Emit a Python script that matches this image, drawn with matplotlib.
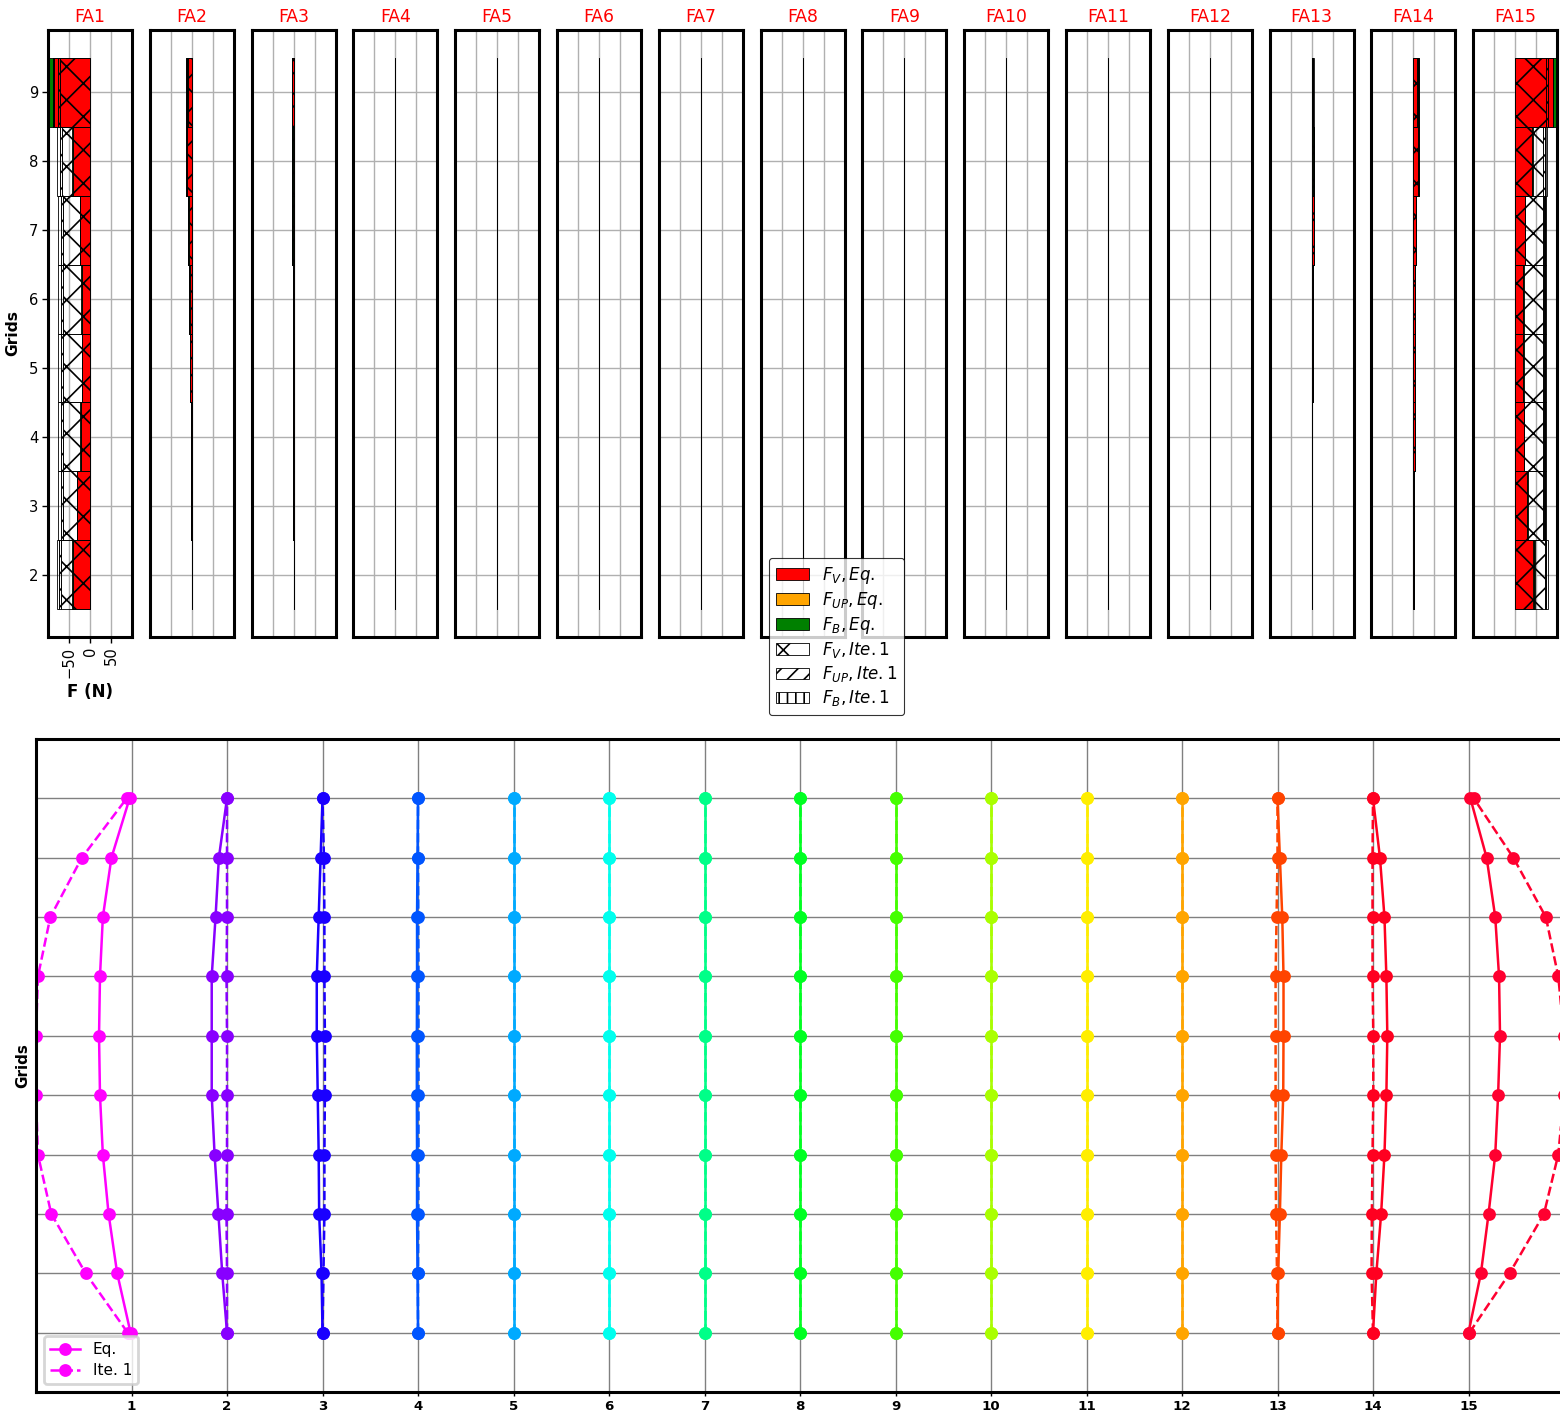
import numpy as np
import matplotlib
matplotlib.use('Agg')
import matplotlib.pyplot as plt
from matplotlib.patches import Patch

# ---- data ----
fa_names = ['FA%d' % i for i in range(1, 16)]
grids = [2, 3, 4, 5, 6, 7, 8, 9]
nodes = [1, 2, 3, 4, 5, 6, 7, 8, 9, 10]

# forces per assembly, one value per grid (2..9)
fv_eq = [
    [-40, -30, -22, -18, -20, -24, -40, -87],
    [-0.5, -1, -1, -4, -5, -7, -11, -9],
    [0, -1, -1.5, -1.5, -2, -1.5, -1.5, -3],
    [0, 0, -1, -1, -1, -1, -1.5, 0],
    [0, -0.5, 0, 0, 0, 0, 0, 0],
    [0, 0, 0, 0, 0, 0, 0, 0],
    [0, 0, 0, 0, 0, 0, 0, 0],
    [0, 0, 0, 0, 0, 0, 0, 0],
    [-1, -1, 0, 0, 0, 0, 0, 0],
    [0, 0, 0, 0, 0, 0, 0, 0],
    [0.5, 0.5, 0.5, 0.5, 0.5, 0.5, 0.5, 0.5],
    [0, 0.5, 0.5, 0.5, 0.5, 0.5, 0.5, 0],
    [0, 1, 2, 3, 4, 5, 3, 2],
    [0.5, 2, 3, 4, 5, 7, 11, 9],
    [43, 29, 21, 19, 19, 23, 39, 89],
]
fup_eq = [
    [-1, 0, 0, 0, 0, 0, -1, -1],
    [0, 0, 0, 0, 0, 0, 0, 0],
    [0, 0, 0, 0, 0, 0, 0, 0],
    [0, 0, 0, 0, 0, 0, 0, 0],
    [0, 0, 0, 0, 0, 0, 0, 0],
    [0, 0, 0, 0, 0, 0, 0, 0],
    [0, 0, 0, 0, 0, 0, 0, 0],
    [0, 0, 0, 0, 0, 0, 0, 0],
    [0, 0, 0, 0, 0, 0, 0, 0],
    [0, 0, 0, 0, 0, 0, 0, 0],
    [0, 0, 0, 0, 0, 0, 0, 0],
    [0, 0.3, 0, 0, 0, 0, 0, 0],
    [0, 0, 0, 0, 0, 0, 0, 0],
    [0, 0, 0, 0, 0, 0, 0, 0],
    [1, 0, 0, 0, 0, 0, 1, 1],
]
fb_eq = [
    [-2, -1, -1, -1, -1, -1, -3, -15],
    [0, 0, 0, -0.5, -1, -2, -3, -5],
    [0, 0, 0, 0, 0, -1.5, -2.5, -1],
    [0, 0, 0, 0, 0, 0, 0, 0],
    [0, 0, 0, 0, 0, 0, 0, 0],
    [0, 0, 0, 0, 0, 0, 0, 0],
    [0, 0, 0, 0, 0, 0, 0, 0],
    [0, 0, 0, 0, 0, 0, 0, 0],
    [0, 0, 0, 0, 0, 0, 0, 0],
    [0, 0, 0, 0, 0, 0, 0, 0],
    [0, 0, 0, 0, 0, 0, 0, 0],
    [0, 0, 0, 0, 0, 0, 0, 0],
    [0, 0, 0, 0, 0, 0, 2, 2],
    [0, 0, 0, 0, 0, 0, 3, 5],
    [2, 1, 1, 1, 1, 1, 3, 12],
]
fv_ite = [
    [-70, -65, -65, -65, -65, -65, -67, -71],
    [-0.5, -1.5, -1.5, -4, -6, -8, -12, -12],
    [0, -1.5, -2, -2, -2, -3, -4, -4],
    [0, 0, -1, -1, -1, -1, -1.5, 0],
    [0, 0, 0, 0, 0, 0, 0, 0],
    [0, 0, 0, 0, 0, 0, 0, 0],
    [0, 0, 0, 0, 0, 0, 0, 0],
    [0, 0, 0, 0, 0, 0, 0, 0],
    [-1, -1, 0, 0, 0, 0, 0, 0],
    [0, 0, 0, 0, 0, 0, 0, 0],
    [0, 0, 0, 0, 0, 0, 0, 0],
    [0, 0, 0, 0, 0, 0, 0, 0],
    [0, 1, 2, 3, 4, 5, 5, 4],
    [0.5, 2, 3, 4, 5, 7, 12, 12],
    [70, 65, 65, 65, 65, 65, 66, 73],
]
fup_ite = [
    [-4, -4, -4, -4, -4, -4, -4, -6],
    [0, 0, 0, 0, 0, 0, 0, 0],
    [0, 0, 0, 0, 0, 0, 0, 0],
    [0, 0, 0, 0, 0, 0, 0, 0],
    [0, 0, 0, 0, 0, 0, 0, 0],
    [0, 0, 0, 0, 0, 0, 0, 0],
    [0, 0, 0, 0, 0, 0, 0, 0],
    [0, 0, 0, 0, 0, 0, 0, 0],
    [0, 0, 0, 0, 0, 0, 0, 0],
    [0, 0, 0, 0, 0, 0, 0, 0],
    [0, 0, 0, 0, 0, 0, 0, 0],
    [0, 0, 0, 0, 0, 0, 0, 0],
    [0, 0, 0, 0, 0, 0, 0, 0],
    [0, 0, 0, 0, 0, 0, 0, 0],
    [4, 3, 4, 4, 4, 3, 4, 6],
]
fb_ite = [
    [-5, -6, -6, -6, -6, -6, -7, -10],
    [0, 0, 0, -1, -1, -2, -3, -3],
    [0, 0, 0, 0, 0, -0.5, -0.5, 0],
    [0, 0, 0, 0, 0, 0, 0, 0],
    [0, 0, 0, 0, 0, 0, 0, 0],
    [0, 0, 0, 0, 0, 0, 0, 0],
    [0, 0, 0, 0, 0, 0, 0, 0],
    [0, 0, 0, 0, 0, 0, 0, 0],
    [0, 0, 0, 0, 0, 0, 0, 0],
    [0, 0, 0, 0, 0, 0, 0, 0],
    [0, 0, 0, 0, 0, 0, 0, 0],
    [0, 0, 0, 0, 0, 0, 0, 0],
    [0, 0, 0, 0, 0, 0, 1, 1],
    [0, 0, 0, 0, 0, 0, 2, 2],
    [5, 5, 5, 5, 5, 5, 6, 10],
]

# lateral displacement of each assembly per node (1..10, bottom to top)
dx_eq = [
    [-0.01, -0.15, -0.24, -0.30, -0.33, -0.34, -0.33, -0.30, -0.21, -0.02],
    [0.0, -0.05, -0.09, -0.13, -0.16, -0.16, -0.16, -0.12, -0.085, 0.0],
    [0.0, -0.01, -0.035, -0.04, -0.05, -0.06, -0.06, -0.04, -0.02, 0.0],
    [0, -0.005, -0.01, -0.01, -0.012, -0.012, -0.01, -0.01, -0.005, 0],
    [0, 0, 0, 0, 0, 0, 0, 0, 0, 0],
    [0, 0, 0, 0, 0, 0, 0, 0, 0, 0],
    [0, 0, 0, 0, 0, 0, 0, 0, 0, 0],
    [0, 0, 0, 0, 0, 0, 0, 0, 0, 0],
    [0, 0, 0, 0, 0, 0, 0, 0, 0, 0],
    [0, 0, 0, 0, 0, 0, 0, 0, 0, 0],
    [0, 0, 0, 0, 0, 0, 0, 0, 0, 0],
    [0, 0, 0, 0, 0, 0, 0, 0, 0, 0],
    [0, 0.007, 0.025, 0.04, 0.06, 0.063, 0.063, 0.05, 0.025, 0],
    [0, 0.035, 0.085, 0.12, 0.14, 0.15, 0.14, 0.12, 0.073, 0],
    [0.0, 0.13, 0.21, 0.28, 0.31, 0.33, 0.32, 0.28, 0.19, 0.02],
]
dx_ite = [
    [-0.04, -0.48, -0.84, -0.98, -1.0, -1.0, -0.98, -0.85, -0.52, -0.05],
    [0, 0, -0.005, 0, 0, 0, -0.005, 0, 0, 0],
    [0, 0.01, 0.02, 0.02, 0.025, 0.025, 0.02, 0.02, 0.015, 0],
    [0, 0, 0.003, 0.005, 0.005, 0.005, 0.005, 0.003, 0, 0],
    [0, 0, 0, 0, 0, 0, 0, 0, 0, 0],
    [0, 0, 0, 0, 0, 0, 0, 0, 0, 0],
    [0, 0, 0, 0, 0, 0, 0, 0, 0, 0],
    [0, 0, 0, 0, 0, 0, 0, 0, 0, 0],
    [0, 0, 0, 0, 0, 0, 0, 0, 0, 0],
    [0, 0, 0, 0, 0, 0, 0, 0, 0, 0],
    [0, 0, 0, 0, 0, 0, 0, 0, 0, 0],
    [0, 0, 0, 0, 0, 0, 0, 0, 0, 0],
    [0, -0.005, -0.015, -0.02, -0.02, -0.02, -0.02, -0.01, 0, 0],
    [0, -0.015, -0.012, -0.005, 0.003, 0.003, -0.005, -0.005, -0.005, 0],
    [0.01, 0.43, 0.79, 0.94, 1.0, 1.0, 0.94, 0.81, 0.47, 0.055],
]

fa_colors = ['#ff00ff', '#8800ff', '#1a00ff', '#0055ff', '#00aaff',
             '#00ffee', '#00ff88', '#00ff22', '#44ff00', '#aaff00',
             '#ffee00', '#ffa500', '#ff4400', '#ff0020', '#ff0030']

# hatches for the iteration bars
h_v, h_up, h_b = 'xx', '////', '||||'

# ---- figure ----
W, H = 1560, 1411
fig = plt.figure(figsize=(7.8, 7.055), dpi=200)
plt.rcParams['hatch.linewidth'] = 0.6

bar_kw = dict(height=1, edgecolor='k', linewidth=0.3)
for i, name in enumerate(fa_names):
    ax = fig.add_axes([(48 + i * 101.8) / W, 1 - 637 / H, 84 / W, 607 / H])
    fv, fu, fb = np.array(fv_eq[i]), np.array(fup_eq[i]), np.array(fb_eq[i])
    ax.barh(grids, fv, color='red', zorder=2, **bar_kw)
    ax.barh(grids, fu, left=fv, color='orange', zorder=2, **bar_kw)
    ax.barh(grids, fb, left=fv + fu, color='green', zorder=2, **bar_kw)
    fv, fu, fb = np.array(fv_ite[i]), np.array(fup_ite[i]), np.array(fb_ite[i])
    ax.barh(grids, fv, fill=False, hatch=h_v, zorder=3, **bar_kw)
    ax.barh(grids, fu, left=fv, fill=False, hatch=h_up, zorder=3, **bar_kw)
    ax.barh(grids, fb, left=fv + fu, fill=False, hatch=h_b, zorder=3, **bar_kw)

    ax.set_xlim(-100, 100)
    ax.set_xticks([-50, 0, 50])
    ax.set_yticks(grids)
    ax.set_axisbelow(True)
    ax.grid(True, color='#b0b0b0', linewidth=0.5)
    for s in ax.spines.values():
        s.set_linewidth(1.1)
    ax.set_title(name, color='red', fontsize=6.2, pad=3)
    if i == 0:
        ax.tick_params(labelsize=5.3, length=2, width=0.5, pad=1.5)
        ax.tick_params(axis='x', labelrotation=90)
        ax.set_ylabel('Grids', fontweight='bold', fontsize=5.6, labelpad=3)
        ax.set_xlabel('F (N)', fontweight='bold', fontsize=6, labelpad=2)
    else:
        ax.tick_params(labelleft=False, labelbottom=False, length=0)

handles = [Patch(facecolor='red', edgecolor='k', linewidth=0.3, label=r'$F_V, Eq.$'),
           Patch(facecolor='orange', edgecolor='k', linewidth=0.3, label=r'$F_{UP}, Eq.$'),
           Patch(facecolor='green', edgecolor='k', linewidth=0.3, label=r'$F_B, Eq.$'),
           Patch(fill=False, hatch=h_v, edgecolor='k', linewidth=0.3, label=r'$F_V, Ite.1$'),
           Patch(fill=False, hatch=h_up, edgecolor='k', linewidth=0.3, label=r'$F_{UP}, Ite.1$'),
           Patch(fill=False, hatch=h_b, edgecolor='k', linewidth=0.3, label=r'$F_B, Ite.1$')]
leg = fig.legend(handles=handles, loc='upper left', bbox_to_anchor=(769 / W, 1 - 558 / H),
                 fontsize=6, labelspacing=0.25, borderaxespad=0, edgecolor='k',
                 fancybox=True)
leg.get_frame().set_linewidth(0.4)

# ---- displacement plot ----
ax2 = fig.add_axes([36 / W, 1 - 1392 / H, 1528 / W, 653 / H])
for i in range(len(fa_names)):
    pos = i + 1
    ax2.plot(pos + np.array(dx_eq[i]), nodes, '-o', color=fa_colors[i],
             linewidth=0.9, markersize=3.6, label='Eq.' if i == 0 else None)
    ax2.plot(pos + np.array(dx_ite[i]), nodes, '--o', color=fa_colors[i],
             linewidth=0.9, markersize=3.6, label='Ite. 1' if i == 0 else None)
ax2.set_xlim(0, 16)
ax2.set_ylim(0, 11)
ax2.set_xticks(range(1, 16))
ax2.set_yticks(nodes)
ax2.set_yticklabels([])
ax2.tick_params(axis='y', length=0, pad=0)
ax2.tick_params(axis='x', labelsize=4.8, length=1.5, width=0.5, pad=1.5)
for lab in ax2.get_xticklabels():
    lab.set_fontweight('bold')
ax2.grid(True, color='gray', linewidth=0.5)
for s in ax2.spines.values():
    s.set_linewidth(1.1)
ax2.set_ylabel('Grids', fontweight='bold', fontsize=5.5, labelpad=2)
ax2.legend(loc='lower left', fontsize=5.5, labelspacing=0.4)

fig.savefig('out.png', dpi=200)
